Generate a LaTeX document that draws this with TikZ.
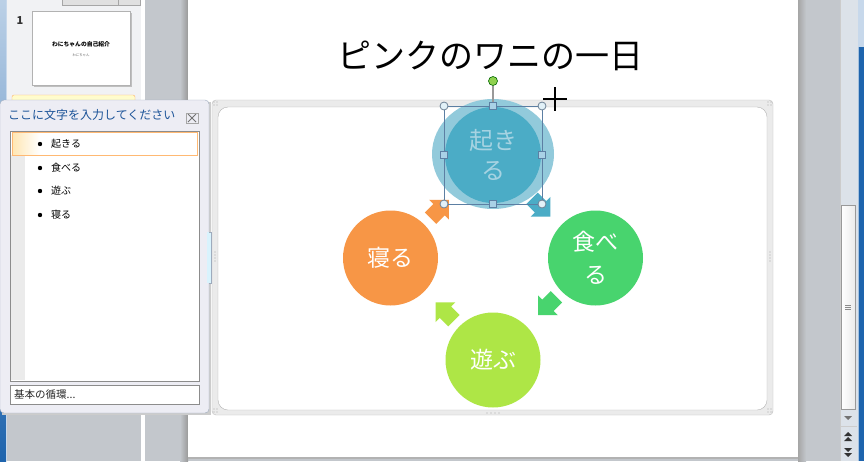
\documentclass[tikz,border=0pt]{standalone}
\usepackage{fontspec}
\newfontfamily\jp{Noto Sans CJK JP}
\usetikzlibrary{calc}
\definecolor{panegray}{HTML}{C3C7CC}
\definecolor{panelight}{HTML}{F1F2F4}
\definecolor{winblue}{HTML}{1E64AD}
\definecolor{tpbg}{HTML}{EDEDF4}
\definecolor{tpborder}{HTML}{9EABBD}
\definecolor{tptitle}{HTML}{1B5398}
\definecolor{listborder}{HTML}{8C8C8C}
\definecolor{cOrange}{HTML}{F79646}
\definecolor{cTeal}{HTML}{4BACC6}
\definecolor{cGlow}{HTML}{92CADB}
\definecolor{cGreen}{HTML}{48D46E}
\definecolor{cLime}{HTML}{AEE646}
\definecolor{fadetext}{HTML}{A6D3E2}
\definecolor{framefill}{HTML}{EBEBEB}
\definecolor{frameline}{HTML}{BDBDBD}
\definecolor{selline}{HTML}{5C7FA3}
\definecolor{hfill}{HTML}{E2F1F8}
\definecolor{hdraw}{HTML}{6E8296}
\definecolor{sqfill}{HTML}{A9D1E6}
\definecolor{sbbg}{HTML}{DCE2E9}
\definecolor{rotgreen}{HTML}{8FD14F}
\tikzset{
  bubble/.style={circle, minimum size=95pt, inner sep=0pt, text=white, align=center,
    font=\jp\fontsize{23}{33}\selectfont},
  listitem/.style={anchor=west, inner sep=0pt, font=\jp\fontsize{10}{12}\selectfont},
  bulletdot/.style={fill=black},
  cornerh/.style={fill=hfill, draw=hdraw, line width=0.8pt},
  sideh/.style={fill=sqfill, draw=selline, line width=0.7pt},
  griphdot/.style={fill=gray!70},
}
\newcommand\blockarrow[3]{%
  \fill[#3, shift={#1}, rotate=#2] (13,0) -- (-1,14) -- (-1,8) -- (-13,8) -- (-13,-8) -- (-1,-8) -- (-1,-14) -- cycle;}
\begin{document}
\begin{tikzpicture}[x=1pt,y=-1pt]
\useasboundingbox (0,0) rectangle (864,461);
% ---------- window background ----------
\fill[panegray] (0,0) rectangle (864,461);
% slides pane
\fill[panelight] (7,0) rectangle (141,100);
\fill[white] (141,0) rectangle (145,461);
\fill[panegray] (145,0) rectangle (188,461);
\shade[left color=panegray, right color=black!40] (180,0) rectangle (188,461);
% left blue strip
\shade[top color=winblue!30, bottom color=winblue] (0,0) rectangle (6,461);
\fill[winblue!25] (6,0) rectangle (7,461);
% tab bar at top
\filldraw[fill=black!12, draw=black!35] (62,-2) rectangle (118,5);
\filldraw[fill=black!12, draw=black!35] (118,-2) rectangle (140,5);
% thumbnail 1
\node[font=\jp\bfseries\fontsize{11}{12}\selectfont, text=black!80] (num1) at (20,21) {1};
\fill[black!25] (34,13) rectangle (132,87);
\filldraw[fill=white, draw=black!30] (32,11) rectangle (130,85);
\node[font=\jp\bfseries\fontsize{5.8}{6}\selectfont] (thtitle) at (81,44) {わにちゃんの自己紹介};
\node[font=\jp\fontsize{3.4}{4}\selectfont, text=black!60] (thsub) at (81,55) {わにちゃん};
% second thumbnail selection (mostly hidden)
\filldraw[fill=yellow!20, draw=orange!60, rounded corners=2pt] (12,95) rectangle (135,120);
% ---------- slide ----------
\fill[white] (188,0) rectangle (798,457);
\fill[black!30] (188,457) rectangle (798,459);
\shade[left color=black!35, right color=panegray] (798,0) rectangle (806,461);
% right scrollbar
\fill[sbbg] (840,0) rectangle (858,461);
\draw[black!20] (840,0) -- (840,461);
\fill[winblue!25] (858,0) rectangle (864,47);
\fill[winblue] (858,47) rectangle (864,461);
\fill[winblue!40] (858,47) rectangle (859,461);
\shade[left color=white, right color=black!8] (841,205) rectangle (855,409);
\draw[black!40] (841,205) rectangle (855,409);
\foreach \yy in {305,307,309} \draw[black!45] (845,\yy) -- (851,\yy);
\fill[black!55] (844,416) -- (852,416) -- (848,420) -- cycle;
\draw[black!20] (841,426) -- (857,426);
\fill[black!80] (844,436) -- (852,436) -- (848,432) -- cycle;
\fill[black!80] (844,441) -- (852,441) -- (848,437) -- cycle;
\fill[black!80] (844,448) -- (852,448) -- (848,452) -- cycle;
\fill[black!80] (844,453) -- (852,453) -- (848,457) -- cycle;
% title
\node[font=\jp\fontsize{34}{40}\selectfont] (title) at (490,56) {ピンクのワニの一日};
% ---------- SmartArt frame ----------
\filldraw[fill=framefill, draw=frameline, rounded corners=4pt] (212,100) rectangle (773,415);
\filldraw[fill=white, draw=black!30, rounded corners=10pt] (218,107) rectangle (767,410);
\foreach \px/\py in {214/102,217/102,214/105,217/105, 768/102,771/102,768/105,771/105,
  214/409,217/409,214/412,217/412, 768/409,771/409,768/412,771/412,
  215/252,215/255,215/258,215/261, 770/252,770/255,770/258,770/261,
  487/413,491/413,495/413,499/413, 487/102,491/102,495/102,499/102}
  \fill[griphdot] (\px,\py) circle[radius=0.7pt];
% ---------- cycle ----------
\fill[cGlow] (493,154) ellipse[x radius=61pt, y radius=55pt];
\node[bubble, fill=cTeal, minimum size=96pt, text=fadetext,
  font=\jp\fontsize{24}{30}\selectfont] (wake) at (493,155) {起き\\る};
\node[bubble, fill=cGreen] (eat) at (595.5,258) {食べ\\る};
\node[bubble, fill=cLime] (play) at (493,360) {遊ぶ};
\node[bubble, fill=cOrange] (sleep) at (390.5,258) {寝る};
\blockarrow{($(sleep)!0.5!(wake)+(-2,2.5)$)}{45}{cOrange}
\blockarrow{($(wake)!0.5!(eat)+(-3,1)$)}{-45}{cTeal}
\blockarrow{($(eat)!0.5!(play)+(3,-3)$)}{-135}{cGreen}
\blockarrow{($(play)!0.5!(sleep)+(3,2.5)$)}{135}{cLime}
% selection box and handles
\draw[selline, line width=0.8pt] (444,106) rectangle (542,204);
\draw[black!40, line width=1.5pt] (493,86) -- (493,106);
\filldraw[fill=rotgreen, draw=green!40!black, line width=0.6pt] (493,81) circle[radius=4.5pt];
\foreach \hx/\hy in {444/106,542/106,444/204,542/204}
  \filldraw[cornerh] (\hx,\hy) circle[radius=4pt];
\foreach \hx/\hy in {493/106,542/155,493/204,444/155}
  \filldraw[sideh] (\hx-3.5,\hy-3.5) rectangle (\hx+3.5,\hy+3.5);
% crosshair cursor
\draw[line width=2pt] (543,99) -- (567,99);
\draw[line width=2pt] (555,87) -- (555,111);
% ---------- text pane ----------
\fill[black!20] (2,102) rectangle (211,415);
\filldraw[fill=tpbg, draw=tpborder, rounded corners=4pt] (0,100) rectangle (209,413);
\fill[cyan!15] (207,232) rectangle (211,283);
\draw[tpborder] (209,232) -- (211,232) -- (211,283) -- (209,283);
\node[anchor=west, inner sep=0pt, text=tptitle, font=\jp\fontsize{12}{14}\selectfont] (tptitle) at (8,115) {ここに文字を入力してください};
% close icon
\draw[black!55, line width=0.9pt] (188,114) -- (196,122) (196,114) -- (188,122);
\draw[black!35, line width=0.5pt] (186,113) rectangle (198,123);
% list box
\filldraw[fill=white, draw=listborder] (10,131) rectangle (199,381);
\fill[black!8] (11,155) rectangle (25,380);
\shade[left color=yellow!35!orange!30, right color=white] (12,132) rectangle (40,155);
\draw[orange!55, line width=0.9pt] (12,132) rectangle (197,155);
\foreach \yy/\tx/\nm in {144/起きる/i1, 168/食べる/i2, 191/遊ぶ/i3, 215/寝る/i4} {
  \fill[bulletdot] (40,\yy) circle[radius=2.2pt];
  \node[listitem] (\nm) at (51,\yy) {\tx};
}
% bottom box
\filldraw[fill=white, draw=listborder] (10,385) rectangle (199,404);
\node[anchor=west, inner sep=0pt, font=\jp\fontsize{10.5}{12}\selectfont, text=black!85] (layout) at (14,395) {基本の循環...};
\end{tikzpicture}
\end{document}
